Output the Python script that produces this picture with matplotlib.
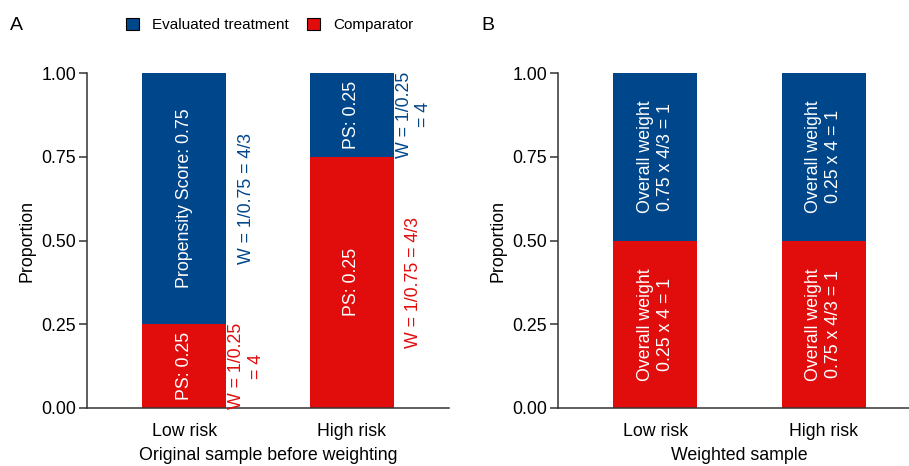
import matplotlib.pyplot as plt
from matplotlib.patches import Patch
import numpy as np

plt.rcParams['font.family'] = ['Liberation Sans', 'DejaVu Sans']
plt.rcParams['font.size'] = 12.8

blue = '#00468B'
red = '#E10D0D'

groups = ['Low risk', 'High risk']

# panel A: original sample
comp_a = [0.25, 0.75]
treat_a = [0.75, 0.25]
inner_treat_a = ['Propensity Score: 0.75', 'PS: 0.25']
inner_comp_a = ['PS: 0.25', 'PS: 0.25']
w_treat_a = ['W = 1/0.75 = 4/3', 'W = 1/0.25\n= 4']
w_comp_a = ['W = 1/0.25\n= 4', 'W = 1/0.75 = 4/3']

# panel B: weighted sample
comp_b = [0.5, 0.5]
treat_b = [0.5, 0.5]
inner_treat_b = ['Overall weight\n0.75 x 4/3 = 1', 'Overall weight\n0.25 x 4 = 1']
inner_comp_b = ['Overall weight\n0.25 x 4 = 1', 'Overall weight\n0.75 x 4/3 = 1']

W, H = 909, 466
fig = plt.figure(figsize=(W / 100, H / 100), dpi=100)


def px_axes(l, t, r, b):
    return fig.add_axes([l / W, 1 - b / H, (r - l) / W, (b - t) / H])


def style(ax, xlabel):
    ax.set_xlim(0.42, 2.58)
    ax.set_ylim(0, 1)
    ax.set_xticks([1, 2])
    ax.set_xticklabels(groups)
    ax.set_yticks([0, 0.25, 0.5, 0.75, 1.0])
    ax.set_yticklabels(['0.00', '0.25', '0.50', '0.75', '1.00'])
    for s in ['top', 'right']:
        ax.spines[s].set_visible(False)
    for s in ['left', 'bottom']:
        ax.spines[s].set_color('#333333')
        ax.spines[s].set_linewidth(1.1)
    ax.tick_params(axis='x', length=0, pad=11)
    ax.tick_params(axis='y', length=6, width=1.1, color='#333333', pad=2)
    ax.set_ylabel('Proportion', labelpad=4)
    ax.set_xlabel(xlabel, labelpad=5)


x = np.array([1, 2])
bw = 0.5

axA = px_axes(87, 73, 449, 408)
axA.bar(x, comp_a, width=bw, color=red)
axA.bar(x, treat_a, width=bw, bottom=comp_a, color=blue)
for i in range(2):
    axA.text(x[i], comp_a[i] / 2, inner_comp_a[i], rotation=90, color='white',
             ha='center', va='center', multialignment='center')
    axA.text(x[i], comp_a[i] + treat_a[i] / 2, inner_treat_a[i], rotation=90, color='white',
             ha='center', va='center', multialignment='center')
    axA.text(x[i] + 0.37, comp_a[i] / 2, w_comp_a[i], rotation=90, color=red,
             ha='center', va='center', multialignment='center')
    axA.text(x[i] + 0.37, comp_a[i] + treat_a[i] / 2, w_treat_a[i], rotation=90, color=blue,
             ha='center', va='center', multialignment='center')
style(axA, 'Original sample before weighting')

axB = px_axes(558, 73, 921, 408)
axB.bar(x, comp_b, width=bw, color=red)
axB.bar(x, treat_b, width=bw, bottom=comp_b, color=blue)
for i in range(2):
    axB.text(x[i], comp_b[i] / 2, inner_comp_b[i], rotation=90, color='white',
             ha='center', va='center', multialignment='center')
    axB.text(x[i], comp_b[i] + treat_b[i] / 2, inner_treat_b[i], rotation=90, color='white',
             ha='center', va='center', multialignment='center')
style(axB, 'Weighted sample')

fig.text(10 / W, 1 - 25 / H, 'A', fontsize=14, va='center', ha='left')
fig.text(481 / W, 1 - 25 / H, 'B', fontsize=14, va='center', ha='left')

handles = [Patch(facecolor=blue, edgecolor='black', linewidth=0.8, label='Evaluated treatment'),
           Patch(facecolor=red, edgecolor='black', linewidth=0.8, label='Comparator')]
fig.legend(handles=handles, loc='center', bbox_to_anchor=(270 / W, 1 - 25 / H), ncol=2,
           frameon=False, fontsize=11, handlelength=0.8, handleheight=0.8,
           handletextpad=0.9, columnspacing=1.2)

fig.savefig('out.png', dpi=100)
